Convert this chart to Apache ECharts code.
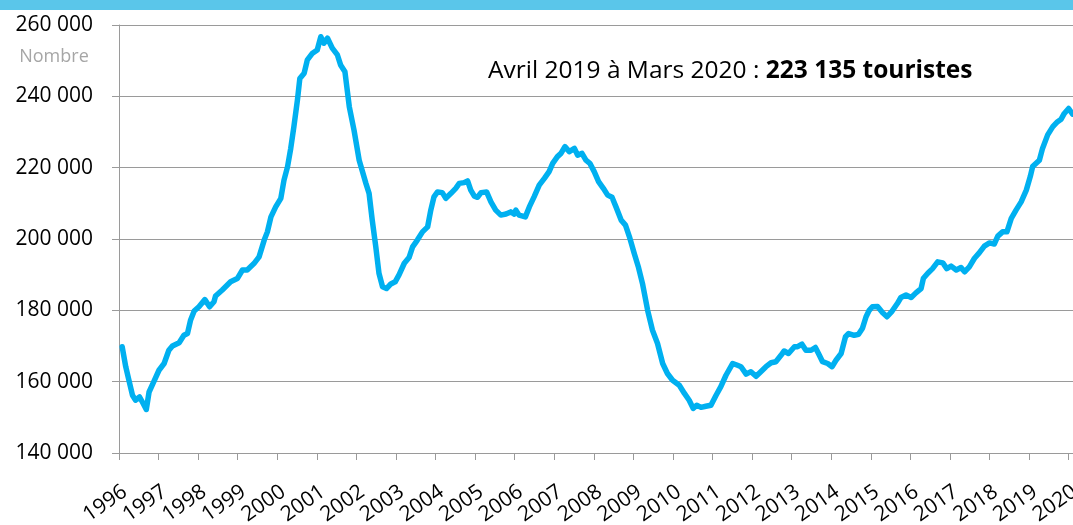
<!DOCTYPE html>
<html>
<head>
<meta charset="utf-8">
<script src="https://cdn.jsdelivr.net/npm/echarts@6/dist/echarts.min.js"></script>
<style>
  html, body { margin: 0; padding: 0; background: #fff; }
  #chart { width: 1073px; height: 525px; }
</style>
</head>
<body>
<div id="chart"></div>
<script>
// dates as decimal years
const years = [
  1996.08, 1996.17, 1996.25, 1996.34, 1996.42, 1996.52, 1996.59, 1996.69, 1996.76, 1996.88,
  1997.01, 1997.14, 1997.26, 1997.35, 1997.52, 1997.64, 1997.73, 1997.81, 1997.90,
  1998.02, 1998.17, 1998.29, 1998.40, 1998.44, 1998.61, 1998.82, 1998.99,
  1999.12, 1999.24, 1999.41, 1999.54, 1999.67, 1999.75, 1999.84, 1999.96,
  2000.09, 2000.17, 2000.26, 2000.34, 2000.42, 2000.51, 2000.57, 2000.68, 2000.76, 2000.89,
  2001.01, 2001.10, 2001.18, 2001.27, 2001.39, 2001.52, 2001.60, 2001.71, 2001.82, 2001.94,
  2002.07, 2002.24, 2002.32, 2002.40, 2002.49, 2002.57, 2002.66, 2002.76, 2002.87, 2002.98,
  2003.08, 2003.21, 2003.33, 2003.42, 2003.54, 2003.67, 2003.80, 2003.88, 2003.96,
  2004.05, 2004.17, 2004.26, 2004.39, 2004.51, 2004.60, 2004.72, 2004.81, 2004.89, 2004.98,
  2005.06, 2005.15, 2005.29, 2005.40, 2005.52, 2005.65, 2005.78, 2005.90, 2005.99,
  2006.03, 2006.11, 2006.27, 2006.37, 2006.49, 2006.62, 2006.75, 2006.87, 2006.96,
  2007.08, 2007.17, 2007.27, 2007.38, 2007.51, 2007.59, 2007.70, 2007.80, 2007.90,
  2008.01, 2008.12, 2008.24, 2008.35, 2008.46, 2008.56, 2008.69, 2008.80, 2008.90,
  2009.02, 2009.13, 2009.23, 2009.36, 2009.48, 2009.61, 2009.74, 2009.86, 2009.99,
  2010.16, 2010.29, 2010.41, 2010.51, 2010.60, 2010.71, 2010.83, 2010.96,
  2011.09, 2011.21, 2011.34, 2011.51, 2011.63, 2011.72, 2011.85, 2011.97,
  2012.10, 2012.22, 2012.35, 2012.48, 2012.60, 2012.73, 2012.81, 2012.92,
  2013.07, 2013.15, 2013.26, 2013.36, 2013.49, 2013.60, 2013.70, 2013.78, 2013.91,
  2014.02, 2014.12, 2014.25, 2014.36, 2014.44, 2014.58, 2014.69, 2014.79, 2014.88, 2014.96,
  2015.04, 2015.17, 2015.30, 2015.41, 2015.54, 2015.67, 2015.76, 2015.89,
  2016.02, 2016.14, 2016.27, 2016.33, 2016.44, 2016.56, 2016.69, 2016.82, 2016.92,
  2017.03, 2017.16, 2017.28, 2017.37, 2017.49, 2017.62, 2017.74, 2017.87,
  2018.00, 2018.12, 2018.21, 2018.33, 2018.44, 2018.55, 2018.67, 2018.80, 2018.93,
  2019.03, 2019.09, 2019.26, 2019.34, 2019.47, 2019.60, 2019.72, 2019.81, 2019.89,
  2020.00, 2020.10
];

// tourists (rolling 12 months)
const tourists = [
  169800, 164200, 160400, 156200, 154800, 155700, 154300, 152200, 157100, 160000,
  163200, 165100, 168800, 170000, 170900, 173000, 173500, 177300, 179800,
  181000, 183000, 181000, 182400, 184000, 185700, 188000, 188900,
  191300, 191300, 193100, 195000, 199700, 202000, 206200, 209000,
  211400, 216500, 220300, 225400, 231500, 239000, 245000, 246500, 250200, 252100,
  253000, 256700, 254900, 256300, 253500, 251600, 248800, 246900, 237100, 230500,
  222100, 215600, 212800, 205300, 197800, 190400, 186600, 186100, 187400, 188000,
  190000, 193200, 194800, 197800, 199700, 202000, 203400, 208100, 211800,
  213200, 213000, 211400, 212800, 214200, 215600, 215800, 216300, 213700, 212000,
  211700, 213000, 213200, 210400, 208100, 206700, 207000, 207600, 207000,
  208100, 206700, 206200, 209000, 211800, 215100, 217000, 218900, 221200,
  223100, 224000, 225900, 224500, 225400, 223500, 224000, 222100, 221200,
  218900, 216100, 214200, 212300, 211700, 209000, 205300, 203900, 200600,
  196000, 192000, 187500, 180000, 174500, 170700, 165100, 162300, 160400,
  159000, 156700, 154800, 152500, 153400, 152800, 153100, 153400,
  156200, 158600, 161800, 165100, 164600, 164200, 162100, 162800,
  161500, 162800, 164200, 165300, 165600, 167400, 168600, 167900,
  169800, 169800, 170500, 168800, 168800, 169600, 167400, 165600, 165100,
  164200, 166000, 167900, 172600, 173500, 173000, 173300, 175000, 178200, 180000,
  181000, 181100, 179300, 178200, 179800, 181900, 183600, 184300,
  183600, 184900, 186100, 189000, 190400, 191700, 193600, 193300, 191700,
  192400, 191300, 192000, 190800, 192200, 194600, 196100, 198000,
  198900, 198600, 200800, 202000, 202000, 205800, 208100, 210400, 213700,
  217500, 220300, 222100, 225400, 229200, 231500, 232900, 233600, 235200,
  236600, 235000
];

const yTicks = [140000, 160000, 180000, 200000, 220000, 240000, 260000];
const annotationLabel = 'Avril 2019 à Mars 2020 : ';
const annotationValue = '223 135 touristes';
const unitLabel = 'Nombre';

const fmtNum = v => String(v).replace(/\B(?=(\d{3})+(?!\d))/g, ' ');

const chart = echarts.init(document.getElementById('chart'), null, { renderer: 'canvas' });

const FONT = 'Open Sans';
const GRID = '#9a9a9a';

chart.setOption({
  animation: false,
  backgroundColor: '#fff',
  grid: { left: 119, right: 0, top: 25, bottom: 72, containLabel: false, outerBoundsMode: 'none' },
  xAxis: {
    type: 'value',
    min: 1996,
    max: 2020.11,
    interval: 1,
    axisLine: { show: true, lineStyle: { color: GRID, width: 1 } },
    axisTick: { show: true, length: 7, lineStyle: { color: GRID } },
    splitLine: { show: false },
    axisLabel: {
      rotate: 35,
      margin: 28,
      verticalAlign: 'top',
      color: '#000',
      fontFamily: FONT,
      fontSize: 21,
      showMaxLabel: false,
      formatter: v => (Number.isInteger(v) ? String(v) : '')
    }
  },
  yAxis: {
    type: 'value',
    min: yTicks[0],
    max: yTicks[yTicks.length - 1],
    interval: 20000,
    axisLine: { show: true, lineStyle: { color: GRID, width: 1 } },
    axisTick: { show: true, length: 7, lineStyle: { color: GRID } },
    splitLine: { show: true, lineStyle: { color: GRID, width: 1 } },
    axisLabel: {
      margin: 26,
      color: '#000',
      fontFamily: FONT,
      fontSize: 21,
      formatter: v => fmtNum(v)
    }
  },
  graphic: [
    { type: 'rect', left: 0, top: 0, shape: { width: 1073, height: 10 }, style: { fill: '#5ac6ea' } },
    {
      type: 'text',
      style: { x: 54, y: 57, text: unitLabel, fill: '#a6a6a6', font: '18px "Open Sans"', align: 'center', verticalAlign: 'middle' }
    },
    {
      type: 'text',
      style: {
        x: 488, y: 71, verticalAlign: 'middle',
        text: '{n|' + annotationLabel + '}{b|' + annotationValue + '}',
        rich: {
          n: { fontFamily: FONT, fontSize: 24.5, fill: '#000' },
          b: { fontFamily: FONT, fontSize: 24.5, fontWeight: 'bold', fill: '#000' }
        }
      }
    }
  ],
  series: [{
    type: 'line',
    data: years.map((y, i) => [y, tourists[i]]),
    showSymbol: false,
    symbol: 'none',
    smooth: false,
    clip: true,
    lineStyle: { color: '#00b0f0', width: 5.5, cap: 'round', join: 'round' }
  }]
});
</script>
</body>
</html>
